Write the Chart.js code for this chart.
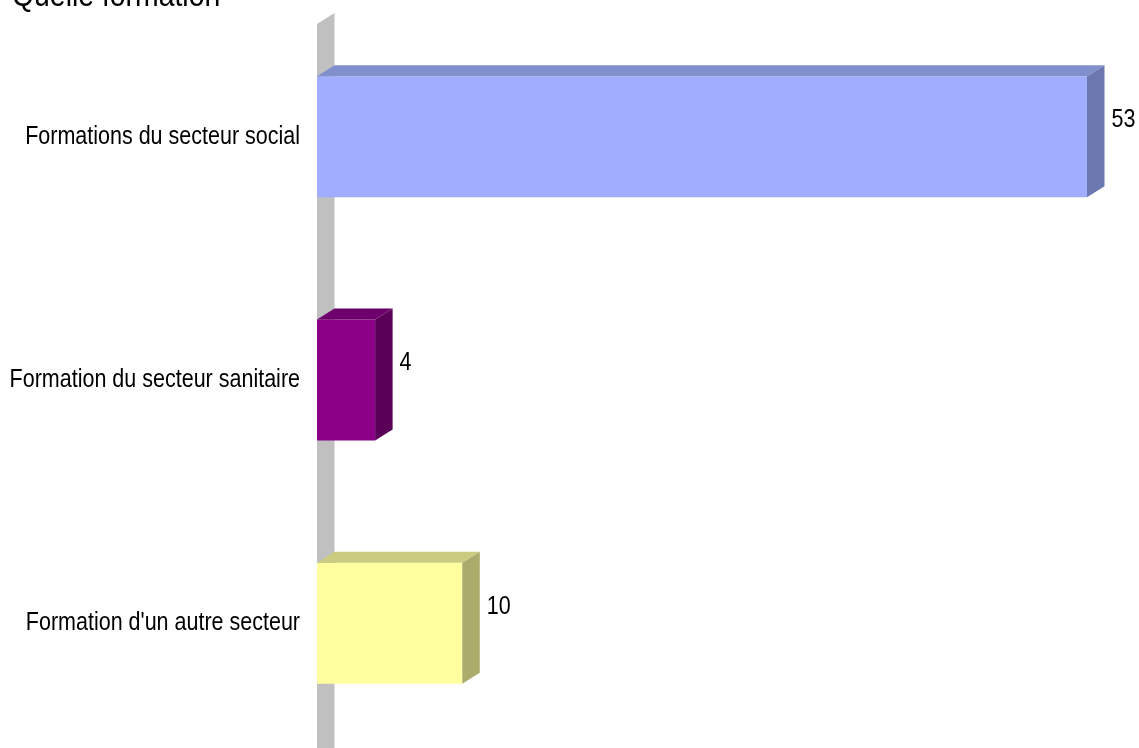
<!DOCTYPE html>
<html>
<head>
<meta charset="utf-8">
<script src="https://cdn.jsdelivr.net/npm/chart.js@4"></script>
<style>
  body { margin: 0; background: #fff; overflow: hidden; }
  #wrap { position: relative; width: 1139px; height: 748px; }
  #title { position: absolute; left: 12px; top: -22px; font: 33px "Liberation Sans", Arial, sans-serif; line-height: 33px; color: #000; white-space: nowrap; transform: scaleX(0.86); transform-origin: 0 0; }
  canvas { position: absolute; left: 0; top: 0; }
</style>
</head>
<body>
<div id="wrap">
  <canvas id="chart" width="1139" height="748"></canvas>
  <div id="title">Quelle formation</div>
</div>
<script>
const categories = ['Formations du secteur social', 'Formation du secteur sanitaire', "Formation d'un autre secteur"];
const values = [53, 4, 10];
const axisMax = 53;

// front / top / side colours for each bar
const frontColors = ['#a1aeff', '#8b0086', '#ffff9f'];
const topColors = ['#828fcd', '#6d006b', '#cccc81'];
const sideColors = ['#6b78b0', '#5b0058', '#abab6b'];
const wallColor = '#c0c0c0';
const depthX = 17.5;
const depthY = -11;
const fontFamily = '"Liberation Sans", Arial, sans-serif';
const textSquash = 0.86; // the original text is horizontally condensed

function squashedText(ctx, text, x, y, size, align) {
    ctx.save();
    ctx.translate(x, y);
    ctx.scale(textSquash, 1);
    ctx.font = size + 'px ' + fontFamily;
    ctx.fillStyle = '#000';
    ctx.textAlign = align;
    ctx.textBaseline = 'middle';
    ctx.fillText(text, 0, 0);
    ctx.restore();
}

const depthPlugin = {
    id: 'depth3d',
    beforeDatasetsDraw(chart) {
        const { ctx, chartArea, scales } = chart;
        const x0 = scales.x.getPixelForValue(0);
        const topFront = chartArea.top + 9;
        ctx.save();
        ctx.fillStyle = wallColor;
        ctx.beginPath();
        ctx.moveTo(x0, topFront);
        ctx.lineTo(x0 + depthX, topFront + depthY);
        ctx.lineTo(x0 + depthX, chart.height);
        ctx.lineTo(x0, chart.height);
        ctx.closePath();
        ctx.fill();
        ctx.restore();

        // category labels, right aligned against the wall
        categories.forEach((label, i) => {
            const y = scales.y.getPixelForValue(i);
            squashedText(ctx, label, x0 - 17, y, 25, 'right');
        });
    },
    afterDatasetsDraw(chart) {
        const { ctx } = chart;
        const meta = chart.getDatasetMeta(0);
        ctx.save();
        meta.data.forEach((bar, i) => {
            const left = bar.base;
            const right = bar.x;
            const top = bar.y - bar.height / 2;
            const bottom = bar.y + bar.height / 2;
            // top face
            ctx.fillStyle = topColors[i];
            ctx.beginPath();
            ctx.moveTo(left, top);
            ctx.lineTo(left + depthX, top + depthY);
            ctx.lineTo(right + depthX, top + depthY);
            ctx.lineTo(right, top);
            ctx.closePath();
            ctx.fill();
            // side face
            ctx.fillStyle = sideColors[i];
            ctx.beginPath();
            ctx.moveTo(right, top);
            ctx.lineTo(right + depthX, top + depthY);
            ctx.lineTo(right + depthX, bottom + depthY);
            ctx.lineTo(right, bottom);
            ctx.closePath();
            ctx.fill();
            // value label
            squashedText(ctx, String(values[i]), right + depthX + 7, bar.y - 16.5, 25, 'left');
        });
        ctx.restore();
    }
};

new Chart(document.getElementById('chart'), {
    type: 'bar',
    data: {
        labels: categories,
        datasets: [{
            data: values,
            backgroundColor: frontColors,
            borderWidth: 0,
            categoryPercentage: 1,
            barPercentage: 0.497
        }]
    },
    options: {
        indexAxis: 'y',
        responsive: false,
        animation: false,
        layout: { padding: { left: 0, right: 52, top: 15, bottom: 3 } },
        plugins: {
            legend: { display: false },
            tooltip: { enabled: false }
        },
        scales: {
            x: { display: false, min: 0, max: axisMax },
            y: {
                grid: { display: false, drawTicks: false },
                border: { display: false },
                ticks: { display: false },
                afterFit(scale) {
                    scale.width = 317;
                    scale.paddingTop = 0;
                    scale.paddingBottom = 0;
                }
            }
        }
    },
    plugins: [depthPlugin]
});
</script>
</body>
</html>
